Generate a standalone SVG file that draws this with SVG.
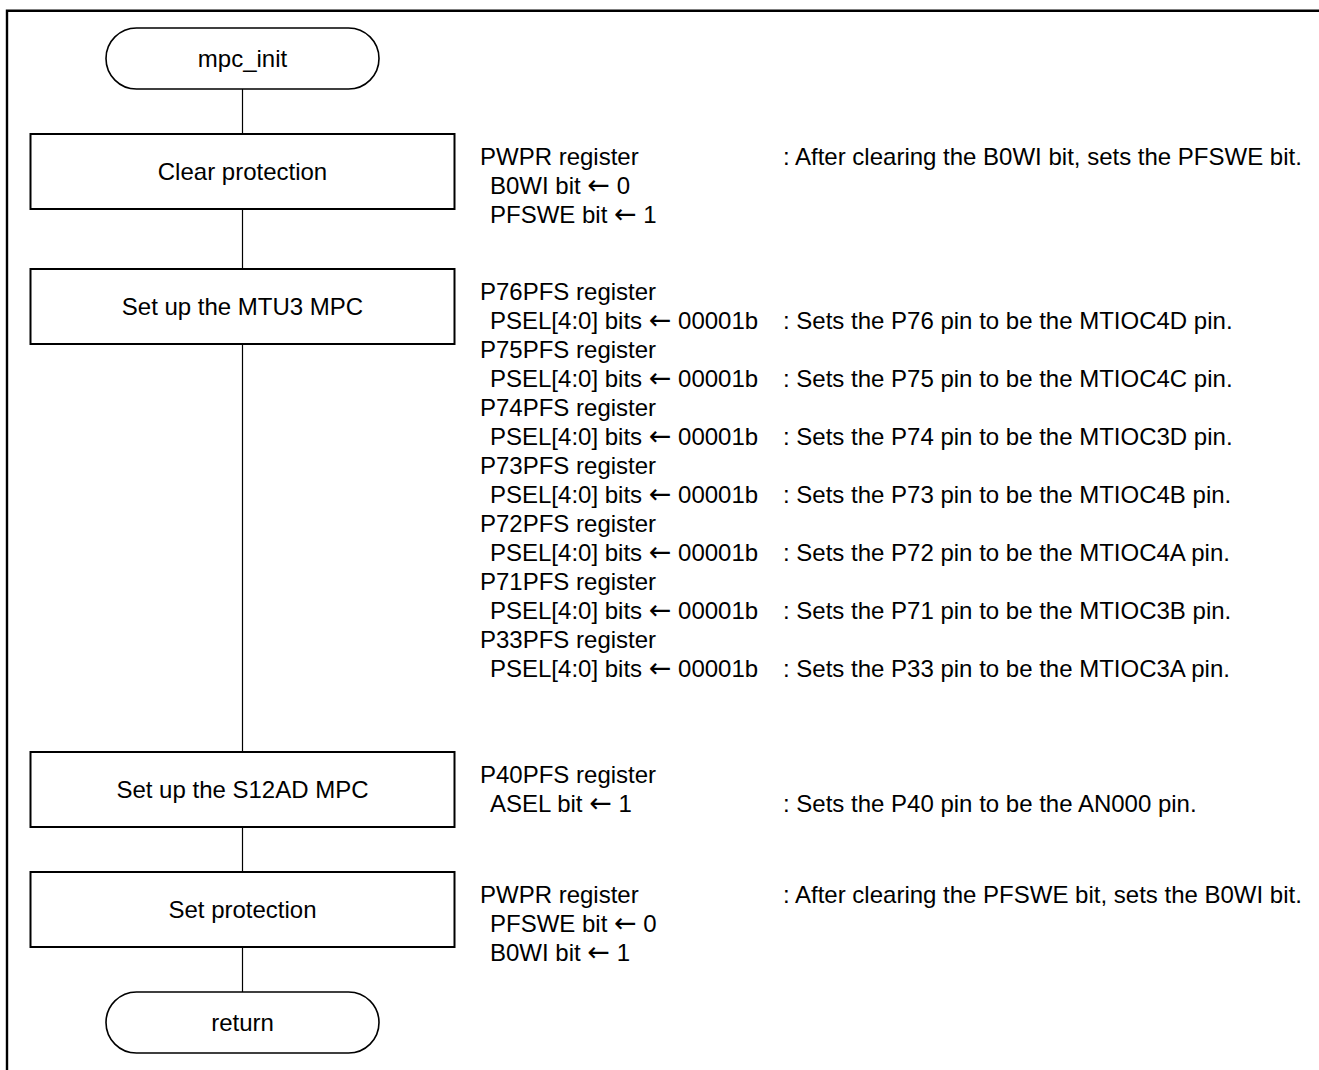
<svg xmlns="http://www.w3.org/2000/svg" width="1319" height="1070" viewBox="0 0 1319 1070">
<style>
text{font-family:"Liberation Sans",Arial,sans-serif;font-size:24px;fill:#000}
.c{text-anchor:middle}
.ar{font-family:"DejaVu Sans",sans-serif;font-size:27px}
.box{fill:#fff;stroke:#000;stroke-width:2}
.term{fill:#fff;stroke:#000;stroke-width:1.6}
.conn{stroke:#000;stroke-width:1.2;fill:none}
</style>
<rect x="0" y="0" width="1319" height="1070" fill="#fff"/>
<path d="M7 1071 V10.8 H1320" fill="none" stroke="#000" stroke-width="2.4"/>
<g id="connectors">
<line class="conn" x1="242.5" y1="89" x2="242.5" y2="134"/>
<line class="conn" x1="242.5" y1="209" x2="242.5" y2="269"/>
<line class="conn" x1="242.5" y1="344" x2="242.5" y2="752"/>
<line class="conn" x1="242.5" y1="827" x2="242.5" y2="872"/>
<line class="conn" x1="242.5" y1="947" x2="242.5" y2="992"/>
</g>
<g id="start">
<rect class="term" x="106" y="28" width="273" height="61" rx="30.5" ry="30.5"/>
<text class="c" x="242.5" y="67">mpc_init</text>
</g>
<g id="clear">
<rect class="box" x="30.5" y="134" width="424" height="75"/>
<text class="c" x="242.5" y="180">Clear protection</text>
</g>
<g id="clear-notes">
<text x="480" y="165">PWPR register</text>
<text x="490" y="194">B0WI bit <tspan class="ar">←</tspan> 0</text>
<text x="490" y="223">PFSWE bit <tspan class="ar">←</tspan> 1</text>
<text x="783" y="165">: After clearing the B0WI bit, sets the PFSWE bit.</text>
</g>
<g id="mtu3">
<rect class="box" x="30.5" y="269" width="424" height="75"/>
<text class="c" x="242.5" y="315">Set up the MTU3 MPC</text>
</g>
<g id="mtu3-notes">
<text x="480" y="300">P76PFS register</text>
<text x="490" y="329">PSEL[4:0] bits <tspan class="ar">←</tspan> 00001b</text>
<text x="783" y="329">: Sets the P76 pin to be the MTIOC4D pin.</text>
<text x="480" y="358">P75PFS register</text>
<text x="490" y="387">PSEL[4:0] bits <tspan class="ar">←</tspan> 00001b</text>
<text x="783" y="387">: Sets the P75 pin to be the MTIOC4C pin.</text>
<text x="480" y="416">P74PFS register</text>
<text x="490" y="445">PSEL[4:0] bits <tspan class="ar">←</tspan> 00001b</text>
<text x="783" y="445">: Sets the P74 pin to be the MTIOC3D pin.</text>
<text x="480" y="474">P73PFS register</text>
<text x="490" y="503">PSEL[4:0] bits <tspan class="ar">←</tspan> 00001b</text>
<text x="783" y="503">: Sets the P73 pin to be the MTIOC4B pin.</text>
<text x="480" y="532">P72PFS register</text>
<text x="490" y="561">PSEL[4:0] bits <tspan class="ar">←</tspan> 00001b</text>
<text x="783" y="561">: Sets the P72 pin to be the MTIOC4A pin.</text>
<text x="480" y="590">P71PFS register</text>
<text x="490" y="619">PSEL[4:0] bits <tspan class="ar">←</tspan> 00001b</text>
<text x="783" y="619">: Sets the P71 pin to be the MTIOC3B pin.</text>
<text x="480" y="648">P33PFS register</text>
<text x="490" y="677">PSEL[4:0] bits <tspan class="ar">←</tspan> 00001b</text>
<text x="783" y="677">: Sets the P33 pin to be the MTIOC3A pin.</text>
</g>
<g id="s12ad">
<rect class="box" x="30.5" y="752" width="424" height="75"/>
<text class="c" x="242.5" y="798">Set up the S12AD MPC</text>
</g>
<g id="s12ad-notes">
<text x="480" y="783">P40PFS register</text>
<text x="490" y="812">ASEL bit <tspan class="ar">←</tspan> 1</text>
<text x="783" y="812">: Sets the P40 pin to be the AN000 pin.</text>
</g>
<g id="setprot">
<rect class="box" x="30.5" y="872" width="424" height="75"/>
<text class="c" x="242.5" y="918">Set protection</text>
</g>
<g id="setprot-notes">
<text x="480" y="903">PWPR register</text>
<text x="490" y="932">PFSWE bit <tspan class="ar">←</tspan> 0</text>
<text x="490" y="961">B0WI bit <tspan class="ar">←</tspan> 1</text>
<text x="783" y="903">: After clearing the PFSWE bit, sets the B0WI bit.</text>
</g>
<g id="return">
<rect class="term" x="106" y="992" width="273" height="61" rx="30.5" ry="30.5"/>
<text class="c" x="242.5" y="1031">return</text>
</g>
</svg>
